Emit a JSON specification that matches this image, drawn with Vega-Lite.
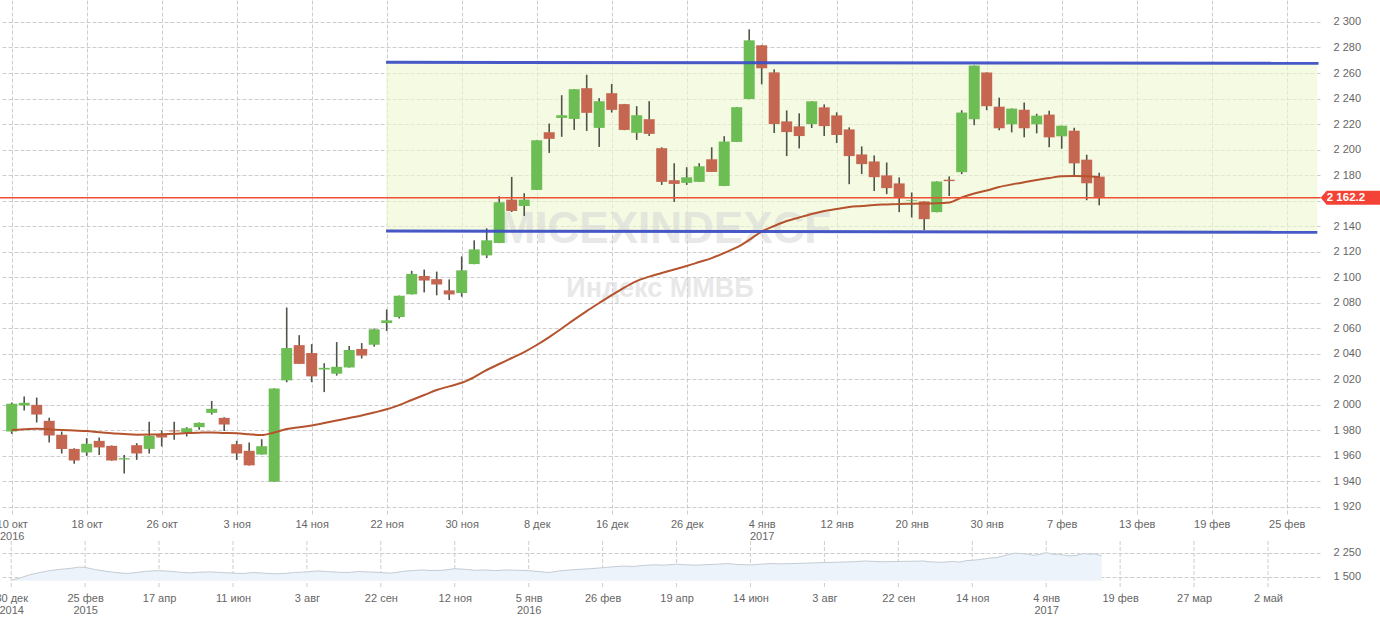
{
  "$schema": "https://vega.github.io/schema/vega-lite/v6.json",
  "width": 1320,
  "height": 515,
  "autosize": {"type": "none"},
  "padding": {"left": 0, "top": 0, "right": 60, "bottom": 107},
  "background": "white",
  "config": {
    "view": {"stroke": null},
    "axis": {
      "labelFont": "Liberation Sans",
      "labelFontSize": 11,
      "labelColor": "#666666",
      "gridColor": "#cdcdcd",
      "gridDash": [4, 2],
      "gridWidth": 1,
      "domain": false,
      "ticks": false,
      "title": null,
      "labelFlush": false,
      "labelOverlap": false,
      "labelBound": false
    },
    "text": {"font": "Liberation Sans"}
  },
  "datasets": {
    "candles": [
      {"i":0,"o":1979.1,"h":2001.8,"l":1977.3,"c":2000.8,"ma":1980.3},
      {"i":1,"o":1999.5,"h":2006.5,"l":1995.6,"c":2001.6,"ma":1980.8},
      {"i":2,"o":2000.0,"h":2005.7,"l":1986.2,"c":1992.4,"ma":1981.3},
      {"i":3,"o":1987.5,"h":1989.8,"l":1970.5,"c":1976.0,"ma":1980.8},
      {"i":4,"o":1976.5,"h":1979.1,"l":1961.9,"c":1965.5,"ma":1980.3},
      {"i":5,"o":1965.5,"h":1966.0,"l":1953.8,"c":1956.4,"ma":1979.9},
      {"i":6,"o":1962.7,"h":1973.9,"l":1960.0,"c":1969.5,"ma":1979.5},
      {"i":7,"o":1971.8,"h":1974.4,"l":1960.8,"c":1966.6,"ma":1978.5},
      {"i":8,"o":1967.9,"h":1968.2,"l":1956.2,"c":1956.4,"ma":1977.7},
      {"i":9,"o":1957.2,"h":1960.8,"l":1946.2,"c":1958.2,"ma":1977.1},
      {"i":10,"o":1968.4,"h":1970.0,"l":1956.9,"c":1961.9,"ma":1976.6},
      {"i":11,"o":1965.5,"h":1986.7,"l":1961.9,"c":1975.7,"ma":1976.7},
      {"i":12,"o":1977.0,"h":1979.9,"l":1967.4,"c":1974.4,"ma":1976.9},
      {"i":13,"o":1979.9,"h":1986.7,"l":1972.6,"c":1979.2,"ma":1977.3},
      {"i":14,"o":1978.3,"h":1982.5,"l":1975.2,"c":1981.7,"ma":1977.9},
      {"i":15,"o":1982.5,"h":1986.2,"l":1980.4,"c":1985.9,"ma":1978.2},
      {"i":16,"o":1993.7,"h":2003.1,"l":1992.4,"c":1996.9,"ma":1978.4},
      {"i":17,"o":1989.8,"h":1990.2,"l":1979.6,"c":1984.6,"ma":1978.0},
      {"i":18,"o":1969.2,"h":1971.8,"l":1956.9,"c":1961.9,"ma":1977.7},
      {"i":19,"o":1964.0,"h":1970.5,"l":1952.5,"c":1952.6,"ma":1977.0},
      {"i":20,"o":1961.1,"h":1973.1,"l":1961.0,"c":1967.6,"ma":1976.3},
      {"i":21,"o":1939.8,"h":2012.9,"l":1939.6,"c":2012.8,"ma":1978.4},
      {"i":22,"o":2019.2,"h":2076.3,"l":2017.7,"c":2044.5,"ma":1981.0},
      {"i":23,"o":2046.8,"h":2054.6,"l":2032.0,"c":2032.1,"ma":1982.4},
      {"i":24,"o":2040.6,"h":2047.6,"l":2017.7,"c":2022.3,"ma":1983.8},
      {"i":25,"o":2027.7,"h":2032.6,"l":2010.0,"c":2029.0,"ma":1985.7},
      {"i":26,"o":2024.4,"h":2049.2,"l":2022.9,"c":2029.8,"ma":1987.7},
      {"i":27,"o":2029.3,"h":2046.1,"l":2029.2,"c":2043.0,"ma":1989.7},
      {"i":28,"o":2043.8,"h":2048.4,"l":2036.3,"c":2038.6,"ma":1991.6},
      {"i":29,"o":2047.1,"h":2059.8,"l":2045.6,"c":2059.2,"ma":1994.0},
      {"i":30,"o":2064.1,"h":2074.7,"l":2057.9,"c":2066.2,"ma":1996.5},
      {"i":31,"o":2068.8,"h":2085.6,"l":2067.7,"c":2085.5,"ma":1999.8},
      {"i":32,"o":2086.6,"h":2105.0,"l":2086.5,"c":2102.6,"ma":2003.8},
      {"i":33,"o":2101.0,"h":2106.0,"l":2088.1,"c":2097.4,"ma":2007.7},
      {"i":34,"o":2098.5,"h":2104.4,"l":2085.8,"c":2094.3,"ma":2011.6},
      {"i":35,"o":2089.7,"h":2098.3,"l":2082.1,"c":2086.5,"ma":2014.5},
      {"i":36,"o":2087.6,"h":2116.3,"l":2084.7,"c":2105.4,"ma":2017.3},
      {"i":37,"o":2110.3,"h":2128.9,"l":2110.2,"c":2121.8,"ma":2021.8},
      {"i":38,"o":2117.1,"h":2138.3,"l":2115.0,"c":2128.9,"ma":2027.3},
      {"i":39,"o":2126.8,"h":2163.4,"l":2126.7,"c":2158.7,"ma":2032.0},
      {"i":40,"o":2160.8,"h":2178.6,"l":2151.1,"c":2151.9,"ma":2036.7},
      {"i":41,"o":2155.8,"h":2165.8,"l":2148.0,"c":2160.8,"ma":2041.4},
      {"i":42,"o":2168.4,"h":2207.4,"l":2168.3,"c":2207.3,"ma":2046.9},
      {"i":43,"o":2213.6,"h":2220.4,"l":2197.4,"c":2208.4,"ma":2053.1},
      {"i":44,"o":2224.8,"h":2242.6,"l":2210.0,"c":2226.9,"ma":2059.8},
      {"i":45,"o":2224.0,"h":2247.4,"l":2215.4,"c":2247.3,"ma":2066.8},
      {"i":46,"o":2248.1,"h":2258.6,"l":2214.6,"c":2228.8,"ma":2073.5},
      {"i":47,"o":2217.0,"h":2240.3,"l":2202.1,"c":2237.9,"ma":2079.8},
      {"i":48,"o":2244.2,"h":2251.5,"l":2229.0,"c":2231.1,"ma":2086.0},
      {"i":49,"o":2235.6,"h":2235.8,"l":2215.2,"c":2215.4,"ma":2091.9},
      {"i":50,"o":2213.1,"h":2234.0,"l":2207.6,"c":2226.9,"ma":2097.0},
      {"i":51,"o":2223.8,"h":2237.9,"l":2210.7,"c":2212.3,"ma":2100.5},
      {"i":52,"o":2201.1,"h":2201.8,"l":2172.3,"c":2174.7,"ma":2103.3},
      {"i":53,"o":2176.0,"h":2189.3,"l":2159.0,"c":2173.1,"ma":2106.0},
      {"i":54,"o":2173.9,"h":2186.2,"l":2172.3,"c":2178.3,"ma":2108.8},
      {"i":55,"o":2174.7,"h":2189.3,"l":2174.6,"c":2186.9,"ma":2111.9},
      {"i":56,"o":2192.4,"h":2201.8,"l":2182.4,"c":2182.5,"ma":2115.0},
      {"i":57,"o":2171.5,"h":2210.5,"l":2171.4,"c":2206.3,"ma":2119.0},
      {"i":58,"o":2206.0,"h":2233.3,"l":2205.9,"c":2233.2,"ma":2123.3},
      {"i":59,"o":2239.6,"h":2294.2,"l":2239.5,"c":2285.6,"ma":2129.2},
      {"i":60,"o":2281.7,"h":2282.0,"l":2251.1,"c":2263.7,"ma":2135.8},
      {"i":61,"o":2260.5,"h":2262.9,"l":2213.0,"c":2220.0,"ma":2140.1},
      {"i":62,"o":2222.1,"h":2230.7,"l":2194.9,"c":2213.7,"ma":2144.0},
      {"i":63,"o":2218.2,"h":2228.4,"l":2200.9,"c":2210.6,"ma":2146.8},
      {"i":64,"o":2220.0,"h":2237.9,"l":2216.9,"c":2237.8,"ma":2149.5},
      {"i":65,"o":2233.1,"h":2235.4,"l":2210.6,"c":2218.4,"ma":2151.9},
      {"i":66,"o":2226.8,"h":2229.2,"l":2205.1,"c":2211.4,"ma":2153.4},
      {"i":67,"o":2215.8,"h":2217.4,"l":2172.9,"c":2194.9,"ma":2155.0},
      {"i":68,"o":2196.2,"h":2202.5,"l":2180.8,"c":2188.6,"ma":2155.8},
      {"i":69,"o":2190.7,"h":2195.4,"l":2167.5,"c":2178.4,"ma":2156.6},
      {"i":70,"o":2179.8,"h":2189.9,"l":2165.1,"c":2169.8,"ma":2157.0},
      {"i":71,"o":2173.5,"h":2178.2,"l":2151.0,"c":2162.5,"ma":2157.4},
      {"i":72,"o":2159.8,"h":2166.4,"l":2146.8,"c":2160.3,"ma":2157.6},
      {"i":73,"o":2159.4,"h":2159.5,"l":2136.9,"c":2145.5,"ma":2157.8},
      {"i":74,"o":2151.0,"h":2175.1,"l":2150.9,"c":2175.0,"ma":2157.9},
      {"i":75,"o":2176.4,"h":2179.0,"l":2163.6,"c":2175.3,"ma":2158.5},
      {"i":76,"o":2182.3,"h":2230.8,"l":2180.7,"c":2229.0,"ma":2162.5},
      {"i":77,"o":2223.8,"h":2265.9,"l":2219.1,"c":2265.8,"ma":2165.6},
      {"i":78,"o":2260.4,"h":2260.5,"l":2230.9,"c":2234.0,"ma":2168.0},
      {"i":79,"o":2233.6,"h":2240.7,"l":2215.1,"c":2216.7,"ma":2170.7},
      {"i":80,"o":2219.8,"h":2232.2,"l":2213.5,"c":2232.1,"ma":2172.7},
      {"i":81,"o":2231.3,"h":2236.8,"l":2209.6,"c":2216.7,"ma":2174.4},
      {"i":82,"o":2219.8,"h":2228.1,"l":2212.7,"c":2226.6,"ma":2176.2},
      {"i":83,"o":2227.4,"h":2230.5,"l":2201.8,"c":2209.6,"ma":2177.7},
      {"i":84,"o":2210.4,"h":2218.8,"l":2200.7,"c":2218.7,"ma":2179.1},
      {"i":85,"o":2214.8,"h":2217.2,"l":2179.8,"c":2189.2,"ma":2179.3},
      {"i":86,"o":2192.1,"h":2196.0,"l":2160.3,"c":2173.6,"ma":2179.2},
      {"i":87,"o":2178.8,"h":2181.9,"l":2156.3,"c":2162.2,"ma":2178.5}
    ],
    "levels": [
      {"x1": 29.95, "x2": 104.55, "y1": 2268.4, "y2": 2267.6},
      {"x1": 29.95, "x2": 104.45, "y1": 2136.2, "y2": 2135.2}
    ],
    "band": [
      {"x1": 29.95, "x2": 104.45, "top": 2268.0, "bottom": 2135.7}
    ],
    "last": [
      {"p": 2162.2, "label": "2 162.2"}
    ],
    "navticks": [
      {"d": 0}, {"d": 36}, {"d": 72}, {"d": 108}, {"d": 144}, {"d": 180}, {"d": 216}, {"d": 252}, {"d": 288},
      {"d": 324}, {"d": 360}, {"d": 396}, {"d": 432}, {"d": 468}, {"d": 504}, {"d": 540}, {"d": 576}, {"d": 612}
    ],
    "nav": [
      {"d":0,"v":1397},{"d":4,"v":1460},{"d":9,"v":1570},{"d":14,"v":1640},{"d":19,"v":1700},{"d":24,"v":1740},
      {"d":29,"v":1770},{"d":33,"v":1810},{"d":36,"v":1800},{"d":41,"v":1730},{"d":46,"v":1680},{"d":51,"v":1640},
      {"d":56,"v":1610},{"d":61,"v":1640},{"d":66,"v":1680},{"d":72,"v":1700},{"d":77,"v":1680},{"d":82,"v":1650},
      {"d":87,"v":1630},{"d":92,"v":1650},{"d":97,"v":1660},{"d":102,"v":1640},{"d":108,"v":1620},{"d":113,"v":1610},
      {"d":118,"v":1640},{"d":123,"v":1620},{"d":128,"v":1600},{"d":133,"v":1610},{"d":138,"v":1640},{"d":144,"v":1660},
      {"d":149,"v":1690},{"d":154,"v":1670},{"d":159,"v":1650},{"d":164,"v":1640},{"d":169,"v":1670},{"d":174,"v":1660},
      {"d":180,"v":1640},{"d":185,"v":1620},{"d":190,"v":1670},{"d":195,"v":1700},{"d":200,"v":1720},{"d":205,"v":1700},
      {"d":210,"v":1710},{"d":216,"v":1760},{"d":221,"v":1740},{"d":226,"v":1710},{"d":231,"v":1720},{"d":236,"v":1700},
      {"d":241,"v":1720},{"d":246,"v":1710},{"d":252,"v":1700},{"d":257,"v":1670},{"d":262,"v":1640},{"d":267,"v":1690},
      {"d":272,"v":1720},{"d":277,"v":1740},{"d":282,"v":1760},{"d":288,"v":1790},{"d":293,"v":1820},{"d":298,"v":1840},
      {"d":303,"v":1830},{"d":308,"v":1860},{"d":313,"v":1880},{"d":318,"v":1870},{"d":324,"v":1900},{"d":329,"v":1880},
      {"d":334,"v":1870},{"d":339,"v":1890},{"d":344,"v":1900},{"d":349,"v":1920},{"d":354,"v":1890},{"d":360,"v":1880},
      {"d":365,"v":1900},{"d":370,"v":1920},{"d":375,"v":1910},{"d":380,"v":1920},{"d":385,"v":1930},{"d":390,"v":1940},
      {"d":396,"v":1950},{"d":401,"v":1960},{"d":406,"v":1970},{"d":411,"v":1980},{"d":416,"v":2000},{"d":421,"v":1985},
      {"d":426,"v":1975},{"d":432,"v":1985},{"d":437,"v":1990},{"d":441,"v":1995},{"d":444,"v":2000.8},{"d":447,"v":1976},
      {"d":450,"v":1969.5},{"d":453,"v":1958.2},{"d":456,"v":1974.4},{"d":459,"v":1985.9},{"d":462,"v":1961.9},{"d":465,"v":2012.8},
      {"d":468,"v":2022.3},{"d":471,"v":2043},{"d":474,"v":2066.2},{"d":477,"v":2097.4},{"d":480,"v":2105.4},{"d":483,"v":2158.7},
      {"d":486,"v":2207.3},{"d":489,"v":2247.3},{"d":492,"v":2231.1},{"d":495,"v":2212.3},{"d":498,"v":2178.3},{"d":501,"v":2206.3},
      {"d":504,"v":2263.7},{"d":507,"v":2210.6},{"d":510,"v":2211.4},{"d":513,"v":2178.4},{"d":516,"v":2160.2},{"d":519,"v":2175.3},
      {"d":522,"v":2234},{"d":525,"v":2216.7},{"d":528,"v":2218.7},{"d":531,"v":2162.2}
    ]
  },
  "layer": [
    {
      "data": {"name": "candles"},
      "encoding": {
        "x": {
          "type": "quantitative",
          "scale": {"domain": [-0.936, 104.664], "nice": false, "zero": false, "padding": 0},
          "axis": {
            "orient": "bottom",
            "grid": true,
            "values": [0, 6, 12, 18, 24, 30, 36, 42, 48, 54, 60, 66, 72, 78, 84, 90, 96, 102],
            "labelExpr": "[['10 окт','2016'],'18 окт','26 окт','3 ноя','14 ноя','22 ноя','30 ноя','8 дек','16 дек','26 дек',['4 янв','2017'],'12 янв','20 янв','30 янв','7 фев','13 фев','19 фев','25 фев'][round(datum.value/6)]",
            "labelPadding": 3,
            "labelLineHeight": 12
          }
        },
        "y": {
          "type": "quantitative",
          "scale": {"domain": [1913.7, 2317.2], "nice": false, "zero": false, "padding": 0},
          "axis": {
            "orient": "right",
            "grid": true,
            "values": [1920, 1940, 1960, 1980, 2000, 2020, 2040, 2060, 2080, 2100, 2120, 2140, 2160, 2180, 2200, 2220, 2240, 2260, 2280, 2300],
            "labelExpr": "replace(format(datum.value, ','), ',', ' ')",
            "labelPadding": 13
          }
        }
      },
      "layer": [
        {
          "data": {"name": "band"},
          "mark": {"type": "rect", "color": "#eef7d0", "opacity": 0.6},
          "encoding": {
            "x": {"field": "x1"},
            "x2": {"field": "x2"},
            "y": {"field": "top"},
            "y2": {"field": "bottom"}
          }
        },
        {
          "data": {"values": [{}]},
          "mark": {"type": "text", "text": "MICEXINDEXCF", "fontSize": 44, "fontWeight": "bold", "color": "#d6d6d6", "opacity": 0.55, "align": "center", "baseline": "alphabetic"},
          "encoding": {"x": {"datum": 52.26}, "y": {"datum": 2126.8}}
        },
        {
          "data": {"values": [{}]},
          "mark": {"type": "text", "text": "Индекс ММВБ", "fontSize": 27, "fontWeight": "bold", "color": "#d6d6d6", "opacity": 0.55, "align": "center", "baseline": "alphabetic"},
          "encoding": {"x": {"datum": 51.86}, "y": {"datum": 2084.8}}
        },
        {
          "mark": {"type": "rule", "color": "#4f5548", "strokeWidth": 1.6},
          "encoding": {
            "x": {"field": "i"},
            "y": {"field": "l"},
            "y2": {"field": "h"}
          }
        },
        {
          "mark": {"type": "bar", "size": 11},
          "encoding": {
            "x": {"field": "i"},
            "y": {"field": "o"},
            "y2": {"field": "c"},
            "color": {"condition": {"test": "datum.c >= datum.o", "value": "#6cbd54"}, "value": "#c56750"}
          }
        },
        {
          "mark": {"type": "line", "color": "#b4532d", "strokeWidth": 2, "interpolate": "monotone"},
          "encoding": {
            "x": {"field": "i"},
            "y": {"field": "ma"}
          }
        },
        {
          "data": {"name": "levels"},
          "mark": {"type": "rule", "color": "#3d4fc4", "strokeWidth": 3, "opacity": 0.95},
          "encoding": {
            "x": {"field": "x1"},
            "x2": {"field": "x2"},
            "y": {"field": "y1"},
            "y2": {"field": "y2"}
          }
        },
        {
          "data": {"name": "last"},
          "mark": {"type": "rule", "color": "#ef4f33", "strokeWidth": 1.5},
          "encoding": {
            "x": {"datum": -0.94},
            "x2": {"datum": 104.72},
            "y": {"field": "p"}
          }
        },
        {
          "data": {"name": "last"},
          "mark": {"type": "point", "shape": "M-0.977,0L-0.784,-0.226L1,-0.226L1,0.226L-0.784,0.226Z", "filled": true, "size": 3844, "color": "#f44336", "opacity": 1, "strokeWidth": 0},
          "encoding": {
            "x": {"datum": 107.14},
            "y": {"field": "p"}
          }
        },
        {
          "data": {"name": "last"},
          "mark": {"type": "text", "color": "white", "fontSize": 11.5, "fontWeight": "bold", "align": "center", "baseline": "middle"},
          "encoding": {
            "x": {"datum": 106.74},
            "y": {"field": "p"},
            "text": {"field": "label"}
          }
        }
      ]
    },
    {
      "data": {"name": "nav"},
      "encoding": {
        "x": {
          "type": "quantitative",
          "scale": {"domain": [-5.454, 637.33], "nice": false, "zero": false, "padding": 0},
          "axis": {
            "orient": "bottom",
            "offset": 73,
            "grid": false,
            "values": [0, 36, 72, 108, 144, 180, 216, 252, 288, 324, 360, 396, 432, 468, 504, 540, 576, 612],
            "labelExpr": "[['30 дек','2014'],['25 фев','2015'],'17 апр','11 июн','3 авг','22 сен','12 ноя',['5 янв','2016'],'26 фев','19 апр','14 июн','3 авг','22 сен','14 ноя',['4 янв','2017'],'19 фев','27 мар','2 май'][round(datum.value/36)]",
            "labelPadding": 4,
            "labelLineHeight": 12
          }
        },
        "y": {
          "type": "quantitative",
          "scale": {"domain": [1156, 2625], "range": [588, 541], "nice": false, "zero": false},
          "axis": {
            "orient": "right",
            "grid": true,
            "values": [1500, 2250],
            "labelExpr": "replace(format(datum.value, ','), ',', ' ')",
            "labelPadding": 13
          }
        }
      },
      "layer": [
        {
          "data": {"name": "navticks"},
          "mark": {"type": "rule", "color": "#cdcdcd", "strokeDash": [4, 2], "strokeWidth": 1},
          "encoding": {
            "x": {"field": "d"},
            "y": {"datum": 2625},
            "y2": {"datum": 1156}
          }
        },
        {
          "mark": {"type": "area", "color": "#edf3fa", "opacity": 1, "line": {"color": "#c4ccd4", "strokeWidth": 1}},
          "encoding": {
            "x": {"field": "d"},
            "y": {"field": "v"},
            "y2": {"datum": 1380}
          }
        }
      ]
    }
  ],
  "resolve": {
    "scale": {"x": "independent", "y": "independent"},
    "axis": {"x": "independent", "y": "independent"}
  }
}
